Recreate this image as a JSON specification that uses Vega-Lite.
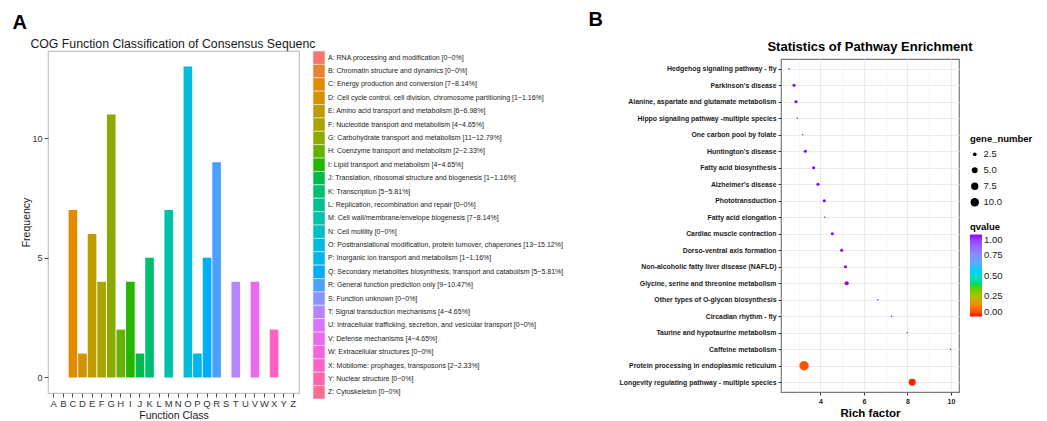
{
  "$schema": "https://vega.github.io/schema/vega-lite/v6.json",
  "padding": {"left": 12, "top": 10, "right": 5, "bottom": 2},
  "background": "white",
  "datasets": {
    "cog": [
      {"cls": "A", "freq": 0, "label": "A: RNA processing and modification [0~0%]"},
      {"cls": "B", "freq": 0, "label": "B: Chromatin structure and dynamics [0~0%]"},
      {"cls": "C", "freq": 7, "label": "C: Energy production and conversion [7~8.14%]"},
      {"cls": "D", "freq": 1, "label": "D: Cell cycle control, cell division, chromosome partitioning [1~1.16%]"},
      {"cls": "E", "freq": 6, "label": "E: Amino acid transport and metabolism [6~6.98%]"},
      {"cls": "F", "freq": 4, "label": "F: Nucleotide transport and metabolism [4~4.65%]"},
      {"cls": "G", "freq": 11, "label": "G: Carbohydrate transport and metabolism [11~12.79%]"},
      {"cls": "H", "freq": 2, "label": "H: Coenzyme transport and metabolism [2~2.33%]"},
      {"cls": "I", "freq": 4, "label": "I: Lipid transport and metabolism [4~4.65%]"},
      {"cls": "J", "freq": 1, "label": "J: Translation, ribosomal structure and biogenesis [1~1.16%]"},
      {"cls": "K", "freq": 5, "label": "K: Transcription [5~5.81%]"},
      {"cls": "L", "freq": 0, "label": "L: Replication, recombination and repair [0~0%]"},
      {"cls": "M", "freq": 7, "label": "M: Cell wall/membrane/envelope biogenesis [7~8.14%]"},
      {"cls": "N", "freq": 0, "label": "N: Cell motility [0~0%]"},
      {"cls": "O", "freq": 13, "label": "O: Posttranslational modification, protein turnover, chaperones [13~15.12%]"},
      {"cls": "P", "freq": 1, "label": "P: Inorganic ion transport and metabolism [1~1.16%]"},
      {"cls": "Q", "freq": 5, "label": "Q: Secondary metabolites biosynthesis, transport and catabolism [5~5.81%]"},
      {"cls": "R", "freq": 9, "label": "R: General function prediction only [9~10.47%]"},
      {"cls": "S", "freq": 0, "label": "S: Function unknown [0~0%]"},
      {"cls": "T", "freq": 4, "label": "T: Signal transduction mechanisms [4~4.65%]"},
      {"cls": "U", "freq": 0, "label": "U: Intracellular trafficking, secretion, and vesicular transport [0~0%]"},
      {"cls": "V", "freq": 4, "label": "V: Defense mechanisms [4~4.65%]"},
      {"cls": "W", "freq": 0, "label": "W: Extracellular structures [0~0%]"},
      {"cls": "X", "freq": 2, "label": "X: Mobilome: prophages, transposons [2~2.33%]"},
      {"cls": "Y", "freq": 0, "label": "Y: Nuclear structure [0~0%]"},
      {"cls": "Z", "freq": 0, "label": "Z: Cytoskeleton [0~0%]"}
    ],
    "kegg": [
      {"pathway": "Hedgehog signaling pathway - fly", "rich": 2.56, "gene_number": 1, "qvalue": 1.0},
      {"pathway": "Parkinson's disease", "rich": 2.79, "gene_number": 2, "qvalue": 1.0},
      {"pathway": "Alanine, aspartate and glutamate metabolism", "rich": 2.88, "gene_number": 2, "qvalue": 1.0},
      {"pathway": "Hippo signaling pathway -multiple species", "rich": 2.94, "gene_number": 1, "qvalue": 1.0},
      {"pathway": "One carbon pool by folate", "rich": 3.19, "gene_number": 1, "qvalue": 1.0},
      {"pathway": "Huntington's disease", "rich": 3.31, "gene_number": 2, "qvalue": 1.0},
      {"pathway": "Fatty acid biosynthesis", "rich": 3.69, "gene_number": 2, "qvalue": 1.0},
      {"pathway": "Alzheimer's disease", "rich": 3.89, "gene_number": 2, "qvalue": 1.0},
      {"pathway": "Phototransduction", "rich": 4.18, "gene_number": 2, "qvalue": 1.0},
      {"pathway": "Fatty acid elongation", "rich": 4.2, "gene_number": 1, "qvalue": 1.0},
      {"pathway": "Cardiac muscle contraction", "rich": 4.55, "gene_number": 2, "qvalue": 1.0},
      {"pathway": "Dorso-ventral axis formation", "rich": 4.98, "gene_number": 2, "qvalue": 1.0},
      {"pathway": "Non-alcoholic fatty liver disease (NAFLD)", "rich": 5.15, "gene_number": 2, "qvalue": 1.0},
      {"pathway": "Glycine, serine and threonine metabolism", "rich": 5.21, "gene_number": 3, "qvalue": 1.0},
      {"pathway": "Other types of O-glycan biosynthesis", "rich": 6.64, "gene_number": 1, "qvalue": 1.0},
      {"pathway": "Circadian rhythm - fly", "rich": 7.27, "gene_number": 1, "qvalue": 1.0},
      {"pathway": "Taurine and hypotaurine metabolism", "rich": 7.99, "gene_number": 1, "qvalue": 1.0},
      {"pathway": "Caffeine metabolism", "rich": 9.98, "gene_number": 1, "qvalue": 1.0},
      {"pathway": "Protein processing in endoplasmic reticulum", "rich": 3.25, "gene_number": 12, "qvalue": 0.06},
      {"pathway": "Longevity regulating pathway - multiple species", "rich": 8.22, "gene_number": 7, "qvalue": 0.01}
    ]
  },
  "hconcat": [
    {
      "title": {"text": "A", "anchor": "start", "font": "Liberation Sans", "fontSize": 20, "fontWeight": "bold", "color": "#000000", "offset": 4.5, "dx": -9},
      "vconcat": [
        {
          "title": {"text": "COG Function Classification of Consensus Sequenc", "anchor": "start", "font": "Liberation Sans", "fontSize": 12.3, "fontWeight": "normal", "color": "#1a1a1a", "offset": 0.5, "dx": 9},
          "spacing": 12,
          "resolve": {"scale": {"y": "independent", "color": "shared"}},
          "hconcat": [
            {
              "width": 251,
              "height": 342,
              "view": {"stroke": "#c4c4c4", "strokeWidth": 1.2},
              "data": {"name": "cog"},
              "mark": {"type": "bar"},
              "encoding": {
                "x": {
                  "field": "cls", "type": "nominal", "sort": null,
                  "scale": {"paddingInner": 0.1, "paddingOuter": 0.15},
                  "axis": {"title": "Function Class", "labelAngle": 0, "domain": false, "labelFont": "Liberation Sans", "labelFontSize": 9.5, "labelColor": "#333333", "tickColor": "#4d4d4d", "tickSize": 4, "labelPadding": 1, "titleFont": "Liberation Sans", "titleFontSize": 10.5, "titleFontWeight": "normal", "titleColor": "#1a1a1a", "titlePadding": 3}
                },
                "y": {
                  "field": "freq", "type": "quantitative",
                  "scale": {"domain": [-0.65, 13.65], "nice": false, "zero": false},
                  "axis": {"values": [0, 5, 10], "grid": false, "domain": false, "title": "Frequency", "labelFont": "Liberation Sans", "labelFontSize": 9, "labelColor": "#333333", "tickColor": "#4d4d4d", "tickSize": 4, "labelPadding": 2, "titleFont": "Liberation Sans", "titleFontSize": 10.5, "titleFontWeight": "normal", "titleColor": "#1a1a1a", "titlePadding": 0}
                },
                "color": {
                  "field": "label", "type": "nominal", "sort": null,
                  "scale": {"range": ["#F8766D", "#EA8331", "#E08B00", "#D19300", "#BE9C00", "#A8A400", "#8CAB00", "#66B100", "#24B700", "#00BB4B", "#00BE70", "#00C090", "#00C1AA", "#00BFC4", "#00BBDA", "#00B5EE", "#00ACFC", "#4BA0FF", "#8B93FF", "#B584FF", "#D575FD", "#EA69EF", "#F863DE", "#FF61C5", "#FF65AC", "#FE6D8D"]},
                  "legend": null
                }
              }
            },
            {
              "width": 12,
              "height": 348,
              "view": {"stroke": null},
              "data": {"name": "cog"},
              "encoding": {
                "y": {"field": "label", "type": "nominal", "sort": null, "scale": {"paddingInner": 0, "paddingOuter": 0}, "axis": null}
              },
              "layer": [
                {
                  "mark": {"type": "rect", "stroke": "#f0f0f0", "strokeWidth": 0.6},
                  "encoding": {
                    "color": {
                      "field": "label", "type": "nominal", "sort": null,
                      "scale": {"range": ["#F8766D", "#EA8331", "#E08B00", "#D19300", "#BE9C00", "#A8A400", "#8CAB00", "#66B100", "#24B700", "#00BB4B", "#00BE70", "#00C090", "#00C1AA", "#00BFC4", "#00BBDA", "#00B5EE", "#00ACFC", "#4BA0FF", "#8B93FF", "#B584FF", "#D575FD", "#EA69EF", "#F863DE", "#FF61C5", "#FF65AC", "#FE6D8D"]},
                      "legend": null
                    }
                  }
                },
                {
                  "mark": {"type": "text", "align": "left", "baseline": "middle", "dx": 9, "font": "Liberation Sans", "fontSize": 7, "color": "#222222"},
                  "encoding": {"text": {"field": "label", "type": "nominal"}}
                }
              ]
            }
          ]
        }
      ]
    },
    {
      "title": {"text": "B", "anchor": "start", "font": "Liberation Sans", "fontSize": 20, "fontWeight": "bold", "color": "#000000", "offset": 11, "dx": -30},
      "spacing": 4,
      "vconcat": [
        {
          "title": {"text": "Statistics of Pathway Enrichment", "anchor": "middle", "frame": "group", "font": "Liberation Sans", "fontSize": 13, "fontWeight": "bold", "color": "#000000", "offset": 3, "dy": 6},
          "width": 178,
          "height": 1,
          "view": {"stroke": null},
          "data": {"values": []},
          "mark": {"type": "point", "opacity": 0}
        },
        {
          "width": 178,
          "height": 333,
          "view": {"stroke": "#7a7a7a", "strokeWidth": 1.2},
          "data": {"name": "kegg"},
          "mark": {"type": "circle", "opacity": 1, "strokeWidth": 0},
          "encoding": {
            "y": {
              "field": "pathway", "type": "nominal", "sort": null,
              "scale": {"type": "point", "padding": 0.59},
              "axis": {"title": null, "grid": true, "gridColor": "#ebebeb", "domain": false, "labelFont": "Liberation Sans", "labelFontSize": 6.9, "labelFontWeight": "bold", "labelColor": "#1a1a1a", "labelLimit": 300, "tickColor": "#333333", "tickSize": 3, "labelPadding": 2}
            },
            "x": {
              "field": "rich", "type": "quantitative", "title": "Rich factor",
              "scale": {"domain": [2.19, 10.37], "nice": false, "zero": false},
              "axis": {
                "values": [3, 4, 5, 6, 7, 8, 9, 10],
                "labelExpr": "datum.value % 2 == 0 ? datum.label : ''",
                "tickOpacity": {"condition": {"test": "datum.value % 2 == 1", "value": 0}, "value": 1},
                "gridWidth": {"condition": {"test": "datum.value % 2 == 1", "value": 0.5}, "value": 1},
                "grid": true, "gridColor": "#ebebeb", "domain": false,
                "labelFont": "Liberation Sans", "labelFontSize": 7, "labelFontWeight": "bold", "labelColor": "#1a1a1a", "tickColor": "#333333", "tickSize": 3, "labelPadding": 2,
                "titleFont": "Liberation Sans", "titleFontSize": 11.5, "titleFontWeight": "bold", "titleColor": "#000000", "titlePadding": 3
              }
            },
            "size": {
              "field": "gene_number", "type": "quantitative",
              "scale": {"domain": [1, 12], "range": [2, 88], "zero": false},
              "legend": {"title": "gene_number", "orient": "none", "legendX": 189, "legendY": 83, "values": [2.5, 5, 7.5, 10], "format": ".1f", "symbolType": "circle", "symbolFillColor": "#000000", "symbolStrokeWidth": 0, "rowPadding": 5, "titleFont": "Liberation Sans", "titleFontSize": 9.5, "titleFontWeight": "bold", "titleColor": "#000000", "labelFont": "Liberation Sans", "labelFontSize": 9.5, "labelColor": "#1a1a1a", "titlePadding": 6, "encode": {"symbols": {"update": {"fill": {"value": "#000000"}, "opacity": {"value": 1}}}}}
            },
            "color": {
              "field": "qvalue", "type": "quantitative",
              "scale": {"domain": [0, 0.125, 0.25, 0.375, 0.5, 0.625, 0.75, 0.875, 1], "range": ["#FF0000", "#FF7A00", "#A8C400", "#1ED81E", "#00E0E0", "#4EB4FF", "#8C8CFF", "#9A5CFF", "#8A00FF"]},
              "legend": {"title": "qvalue", "orient": "none", "legendX": 189, "legendY": 171, "direction": "vertical", "gradientLength": 82, "gradientThickness": 12, "gradientStrokeWidth": 0, "values": [0, 0.25, 0.5, 0.75, 1], "format": ".2f", "titleFont": "Liberation Sans", "titleFontSize": 9.5, "titleFontWeight": "bold", "titleColor": "#000000", "labelFont": "Liberation Sans", "labelFontSize": 9.5, "labelColor": "#1a1a1a", "titlePadding": 3}
            }
          }
        }
      ]
    }
  ],
  "spacing": 24,
  "resolve": {"scale": {"color": "independent", "size": "independent"}, "legend": {"color": "independent", "size": "independent"}}
}
